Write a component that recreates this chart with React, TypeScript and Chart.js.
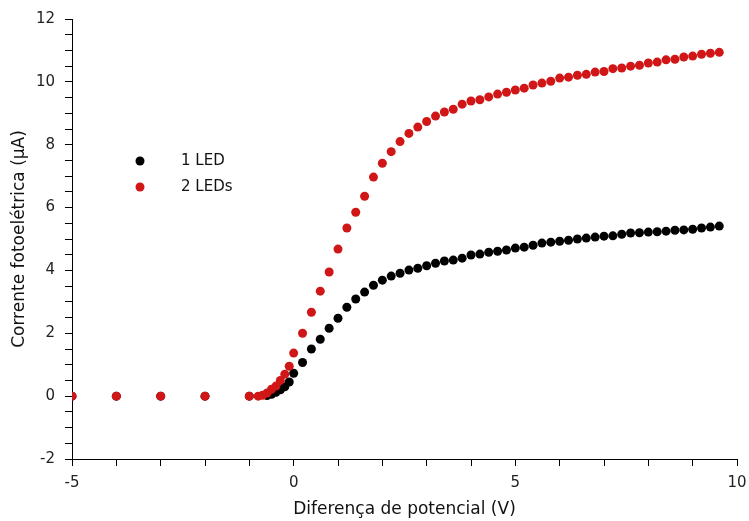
import React, { useEffect, useRef } from "react";
import { Chart, registerables } from "chart.js";

Chart.register(...registerables);

const xLabel = "Diferença de potencial (V)";
const yLabel = "Corrente fotoelétrica (µA)";
const seriesNames = ["1 LED", "2 LEDs"];

const oneLedX = [-5, -4, -3, -2, -1, -0.6, -0.5, -0.4, -0.3, -0.2, -0.1, 0, 0.2, 0.4, 0.6, 0.8, 1.0, 1.2, 1.4, 1.6, 1.8, 2.0, 2.2, 2.4, 2.6, 2.8, 3.0, 3.2, 3.4, 3.6, 3.8, 4.0, 4.2, 4.4, 4.6, 4.8, 5.0, 5.2, 5.4, 5.6, 5.8, 6.0, 6.2, 6.4, 6.6, 6.8, 7.0, 7.2, 7.4, 7.6, 7.8, 8.0, 8.2, 8.4, 8.6, 8.8, 9.0, 9.2, 9.4, 9.6];
const oneLedY = [0, 0, 0, 0, 0, 0.02, 0.06, 0.12, 0.2, 0.3, 0.45, 0.73, 1.07, 1.5, 1.81, 2.16, 2.48, 2.83, 3.09, 3.31, 3.53, 3.69, 3.82, 3.91, 4.01, 4.07, 4.15, 4.23, 4.3, 4.33, 4.39, 4.49, 4.52, 4.58, 4.61, 4.65, 4.71, 4.74, 4.8, 4.87, 4.9, 4.93, 4.96, 5.0, 5.03, 5.06, 5.09, 5.1, 5.15, 5.19, 5.2, 5.22, 5.23, 5.25, 5.28, 5.29, 5.31, 5.35, 5.38, 5.41];

const twoLedX = [-5, -4, -3, -2, -1, -0.8, -0.7, -0.6, -0.5, -0.4, -0.3, -0.2, -0.1, 0, 0.2, 0.4, 0.6, 0.8, 1.0, 1.2, 1.4, 1.6, 1.8, 2.0, 2.2, 2.4, 2.6, 2.8, 3.0, 3.2, 3.4, 3.6, 3.8, 4.0, 4.2, 4.4, 4.6, 4.8, 5.0, 5.2, 5.4, 5.6, 5.8, 6.0, 6.2, 6.4, 6.6, 6.8, 7.0, 7.2, 7.4, 7.6, 7.8, 8.0, 8.2, 8.4, 8.6, 8.8, 9.0, 9.2, 9.4, 9.6];
const twoLedY = [0, 0, 0, 0, 0, 0, 0.03, 0.1, 0.22, 0.32, 0.5, 0.7, 0.95, 1.37, 2.0, 2.67, 3.34, 3.95, 4.68, 5.35, 5.85, 6.36, 6.97, 7.41, 7.78, 8.1, 8.36, 8.56, 8.74, 8.91, 9.04, 9.13, 9.29, 9.39, 9.43, 9.52, 9.61, 9.67, 9.74, 9.8, 9.9, 9.96, 10.02, 10.12, 10.15, 10.21, 10.24, 10.31, 10.33, 10.42, 10.44, 10.5, 10.53, 10.6, 10.63, 10.7, 10.72, 10.79, 10.82, 10.88, 10.91, 10.94];

const xMajorLabels = [-5, 0, 5, 10];
const yMajorLabels = [-2, 0, 2, 4, 6, 8, 10, 12];

const colors = ["#000000", "#d01616"];
const FONT = "'DejaVu Sans', Verdana, sans-serif";

const legendPlugin = {
  id: "customLegend",
  afterDraw(chart: any) {
    const ctx = chart.ctx;
    ctx.save();
    ctx.font = `15px ${FONT}`;
    ctx.textBaseline = "middle";
    seriesNames.forEach((name, i) => {
      const y = 161 + i * 26;
      ctx.beginPath();
      ctx.fillStyle = colors[i];
      ctx.arc(140, y, 4.5, 0, Math.PI * 2);
      ctx.fill();
      ctx.fillStyle = "#111";
      ctx.fillText(name, 181, y);
    });
    ctx.restore();
  },
};

export default function App() {
  const ref = useRef<HTMLCanvasElement>(null);
  useEffect(() => {
    if (!ref.current) return;
    const toPts = (xs: number[], ys: number[]) => xs.map((x, i) => ({ x, y: ys[i] }));
    const chart = new Chart(ref.current, {
      type: "scatter",
      data: {
        datasets: [
          {
            label: seriesNames[0],
            data: toPts(oneLedX, oneLedY),
            backgroundColor: colors[0],
            borderColor: colors[0],
            pointRadius: 4.5,
            borderWidth: 0,
            order: 1,
          },
          {
            label: seriesNames[1],
            data: toPts(twoLedX, twoLedY),
            backgroundColor: colors[1],
            borderColor: colors[1],
            pointRadius: 4.5,
            borderWidth: 0,
            order: 0,
          },
        ],
      },
      options: {
        animation: false,
        responsive: false,
        maintainAspectRatio: false,
        layout: { autoPadding: false, padding: { left: 0, top: 19, right: 12, bottom: 0 } },
        plugins: { legend: { display: false }, tooltip: { enabled: false } },
        scales: {
          x: {
            type: "linear",
            min: -5,
            max: 10,
            afterFit: (s: any) => { s.height = 62; s.paddingLeft = 0; s.paddingRight = 0; },
            ticks: {
              stepSize: 1,
              autoSkip: false,
              maxRotation: 0,
              padding: 8,
              color: "#222",
              font: { family: FONT, size: 15 },
              callback: (v: any) => (xMajorLabels.includes(Number(v)) ? String(v) : ""),
            },
            grid: { display: true, drawOnChartArea: false, drawTicks: true, tickLength: 7, color: "#000" },
            border: { display: true, color: "#000", width: 1 },
            title: { display: true, text: xLabel, color: "#111", font: { family: FONT, size: 17 }, padding: { top: 0, bottom: 1 } },
          },
          y: {
            type: "linear",
            min: -2,
            max: 12,
            afterFit: (s: any) => { s.width = 72; s.paddingTop = 0; s.paddingBottom = 0; },
            ticks: {
              stepSize: 0.5,
              autoSkip: false,
              padding: 10,
              color: "#222",
              font: { family: FONT, size: 15 },
              callback: (v: any) => (yMajorLabels.includes(Number(v)) ? String(v) : ""),
            },
            grid: { display: true, drawOnChartArea: false, drawTicks: true, tickLength: 7, color: "#000" },
            border: { display: true, color: "#000", width: 1 },
            title: { display: true, text: yLabel, color: "#111", font: { family: FONT, size: 17 }, padding: { top: 9, bottom: 0 } },
          },
        },
      },
      plugins: [legendPlugin],
    } as any);
    return () => chart.destroy();
  }, []);
  return (
    <div style={{ position: "absolute", left: 0, top: 0, width: 749, height: 521, background: "#fff" }}>
      <canvas ref={ref} width={749} height={521} style={{ display: "block" }} />
    </div>
  );
}
